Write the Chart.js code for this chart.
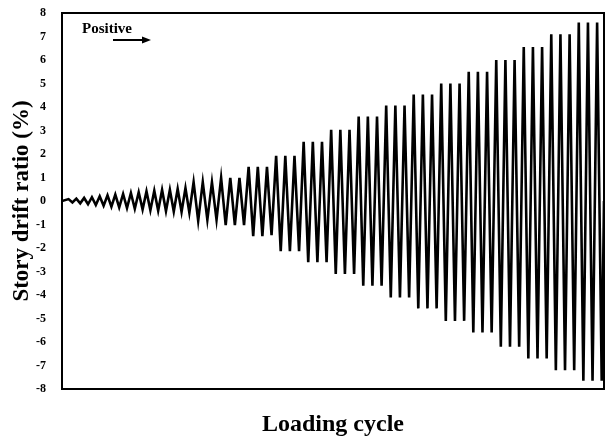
<!DOCTYPE html>
<html>
<head>
<meta charset="utf-8">
<script src="https://cdn.jsdelivr.net/npm/chart.js@4.4.1/dist/chart.umd.min.js"></script>
<style>
  body { margin: 0; background: #fff; }
</style>
</head>
<body>
<canvas id="driftChart" width="606" height="439"></canvas>
<script>
const smallPeaks   = [0.08, 0.1, 0.13, 0.16, 0.2, 0.24, 0.27, 0.3, 0.34, 0.37, 0.41, 0.44, 0.47, 0.48, 0.51, 0.55];
const smallTroughs = [-0.06, -0.1, -0.14, -0.17, -0.2, -0.24, -0.27, -0.3, -0.33, -0.36, -0.39, -0.41, -0.43, -0.45, -0.46, -0.5];

const largePeaks = [
  0.8, 0.8, 0.8,  0.98, 0.98, 0.98,  1.45, 1.45, 1.45,  1.92, 1.92, 1.92,
  2.52, 2.52, 2.52,  3.03, 3.03, 3.03,  3.59, 3.59, 3.59,  4.06, 4.06, 4.06,
  4.53, 4.53, 4.53,  5.0, 5.0, 5.0,  5.5, 5.5, 5.5,  6.0, 6.0, 6.0,
  6.55, 6.55, 6.55,  7.1, 7.1, 7.1,  7.6, 7.6, 7.6
];
const largeTroughs = [
  -0.84, -0.8, -0.8,  -1.03, -1.03, -1.03,  -1.5, -1.5, -1.45,  -2.14, -2.14, -2.14,
  -2.6, -2.6, -2.6,  -3.1, -3.1, -3.1,  -3.6, -3.6, -3.6,  -4.1, -4.1, -4.1,
  -4.57, -4.57, -4.57,  -5.1, -5.1, -5.1,  -5.6, -5.6, -5.6,  -6.2, -6.2, -6.2,
  -6.7, -6.7, -6.7,  -7.2, -7.2, -7.2,  -7.65, -7.65, -7.65
];

// length of one cycle along the loading axis
const smallCycle = 0.85;
const largeCycle = 1.0;
const leadIn = 0.5;

const yTicks = [-8, -7, -6, -5, -4, -3, -2, -1, 0, 1, 2, 3, 4, 5, 6, 7, 8];

const points = [{x: 0, y: 0}];
let t = leadIn;
function addCycles(peaks, troughs, len) {
  for (let i = 0; i < peaks.length; i++) {
    points.push({x: t + len / 4, y: peaks[i]});
    points.push({x: t + 3 * len / 4, y: troughs[i]});
    t += len;
  }
}
addCycles(smallPeaks, smallTroughs, smallCycle);
addCycles(largePeaks, largeTroughs, largeCycle);
points.push({x: t, y: 0});

const serif = "'Liberation Serif', 'Times New Roman', serif";

const framePlugin = {
  id: 'frame',
  afterDatasetsDraw(chart) {
    const {ctx, chartArea: a} = chart;
    ctx.save();
    ctx.strokeStyle = '#000';
    ctx.lineWidth = 2;
    ctx.strokeRect(a.left, a.top, a.right - a.left, a.bottom - a.top);

    // "Positive" note with arrow
    ctx.fillStyle = '#000';
    ctx.font = 'bold 15px ' + serif;
    ctx.textBaseline = 'middle';
    ctx.fillText('Positive', a.left + 20, a.top + 16);
    ctx.lineWidth = 2;
    ctx.beginPath();
    ctx.moveTo(a.left + 51, a.top + 27);
    ctx.lineTo(a.left + 82, a.top + 27);
    ctx.stroke();
    ctx.beginPath();
    ctx.moveTo(a.left + 89, a.top + 27);
    ctx.lineTo(a.left + 80, a.top + 23.5);
    ctx.lineTo(a.left + 80, a.top + 30.5);
    ctx.closePath();
    ctx.fill();
    ctx.restore();
  }
};

const chart = new Chart(document.getElementById('driftChart'), {
  type: 'line',
  data: {
    datasets: [{
      data: points,
      borderColor: '#000',
      borderWidth: 2.6,
      pointRadius: 0,
      tension: 0,
      fill: false
    }]
  },
  options: {
    responsive: false,
    animation: false,
    layout: { padding: { top: 13, right: 2, left: 0, bottom: 0 } },
    plugins: { legend: { display: false }, tooltip: { enabled: false } },
    scales: {
      x: {
        type: 'linear',
        min: 0,
        max: t,
        grid: { display: false, drawTicks: false },
        border: { display: false },
        ticks: { display: false },
        title: {
          display: true,
          text: 'Loading cycle',
          color: '#000',
          font: { family: serif, size: 24, weight: 'bold' },
          padding: { top: 0, bottom: 0 }
        },
        afterFit(scale) { scale.height = 50; }
      },
      y: {
        min: -8,
        max: 8,
        grid: { display: false, drawTicks: false },
        border: { display: false },
        afterBuildTicks(scale) { scale.ticks = yTicks.map(v => ({value: v})); },
        ticks: {
          color: '#000',
          padding: 16,
          font: { family: serif, size: 12, weight: 'bold' }
        },
        title: {
          display: true,
          text: 'Story drift ratio (%)',
          color: '#000',
          font: { family: serif, size: 23, weight: 'bold' },
          padding: { top: 8, bottom: 0 }
        },
        afterFit(scale) {
          scale.width = 62;
          scale.paddingTop = 0;
          scale.paddingBottom = 0;
        }
      }
    }
  },
  plugins: [framePlugin]
});
</script>
</body>
</html>
